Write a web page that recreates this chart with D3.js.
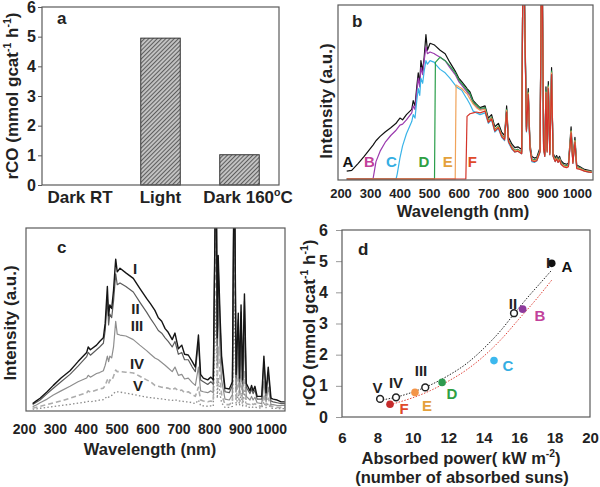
<!DOCTYPE html>
<html><head><meta charset="utf-8">
<script src="https://cdn.jsdelivr.net/npm/d3@7"></script>
<style>
body{margin:0;background:#fff;}
text{font-family:"Liberation Sans",Arial,sans-serif;font-weight:bold;fill:#222;}
</style></head><body>
<svg id="chart" width="600" height="487"></svg>
<script>
// ---------- panel a data ----------
const rateCategories = ["Dark RT", "Light", "Dark 160°C"];
const rateValues = [0, 4.95, 1.02];
const rateTicks = [0, 1, 2, 3, 4, 5, 6];

// ---------- panel b data (filtered spectra) ----------
const wlTicks = [200, 300, 400, 500, 600, 700, 800, 900, 1000];
const filterWl = [221,238,260,280,294,310,314,320,334,351,
370,388,392,401,410,423,441,446,452,458,
463,468,472,478,483,489,494,503,518,521,
537,554,570,588,591,600,610,624,628,638,
649,660,672,689,700,711,722,734,745,755,
762,768,780,790,800,813,818,824,829,835,
841,847,856,864,875,881,887,891,895,899,
903,908,914,919,926,931,936,941,946,955,
965,971,980,986,993,999,1010,1025,1040,1050];
const specA = [4.5,5,9,13,16,19.5,20.5,22,24.5,27,
29.5,32,33,35,34,37,40,45,42,53,
61,55,68,62,70,83,74,78,77,76.5,
74,72,67,62,61,58,56,53,52,50,
45,43,41,42,35,37,30,32,27,25,
42,24,20,18,18.5,17,150,87,30,52,
20,13,12,12.5,18,150,20,15,53,18,
56,16,64,15,12,13.5,11.5,13,10.5,9,
8.5,9,30,11,24,8,7,5.5,5,4.6];
const specB = [0,0,0,0,0,0,4,10,16,21,
25,28,29,31,31.5,34,38,42,40,50,
58,53,64,60,68,76,72,73,72,71.5,
70,68,64,60,59,56,54,51,50,48,
43.5,41.5,40,40.5,33.5,35,28.5,30,25.5,23.5,
39,22.5,18.5,16.5,17,15.5,150,83,28.5,49,
18.5,11.5,11,11.5,16.5,150,18.5,14,50,16.5,
53,15,61,14,11,12.5,10.5,12,9.5,8,
7.5,8,27,10,22,7,6.5,5,4.5,4.2];
const specC = [0,0,0,0,0,0,0,0,0,0,
0,0,3,12,19,26,33,37,35,45,
52,48,58,55,62,68,66,68,67,66,
63,61,58,54,53,52,51,47,46,43,
39,38,37,38,32,34,27,29,24,22,
38,21,17,15.5,16,14.5,150,82,27,48,
17,10,9.5,10.5,15.5,150,17,13,49,15.5,
52,14,60,13,10,11.5,9.5,11,8.5,7.5,
7,7.5,27,9,21,6.5,6,4.5,4,3.8];
const specD = [0,0,0,0,0,0,0,0,0,0,
0,0,0,0,0,0,0,0,0,0,
0,0,0,0,0,0,0,0,0,67,
70,68,65,61,60,57,55,52,51,49,
44,42.5,40.5,41,33.5,35.5,28.5,30.5,25.5,23.5,
40,22.5,18.5,16.5,17,15.5,150,84,28.5,50,
18.5,11.5,11,11.5,16.5,150,18.5,14,51,16.5,
54,15,62,14,11,12.5,10.5,12,9.5,8,
7.5,8,28,10,22.5,7,6.5,5,4.5,4.2];
const specE = [0,0,0,0,0,0,0,0,0,0,
0,0,0,0,0,0,0,0,0,0,
0,0,0,0,0,0,0,0,0,0,
0,0,0,0,54,53,52,49.5,49,46,
43,41,39.5,40,33,35,28,30,25,23,
39.5,22,18,16,16.5,15,150,83,28,49.5,
18,11,10.5,11,16,150,18,13.5,50,16,
53,14.5,61,13.5,10.5,12,10,11.5,9,7.5,
7,7.5,27.5,9.5,22,6.5,6,4.8,4.3,4];
const specF = [0,0,0,0,0,0,0,0,0,0,
0,0,0,0,0,0,0,0,0,0,
0,0,0,0,0,0,0,0,0,0,
0,0,0,0,0,0,0,0,36,37.5,
38,38.5,38,39,32.5,34.5,27.5,29.5,24.5,22.5,
38.5,21.5,17.5,15.5,16,14.5,150,82,27.5,48.5,
17.5,10.5,10,10.5,15.5,150,17.5,13,49.5,15.5,
52,14,60,13,10,11.5,9.5,11,8.5,7,
6.5,7,26.5,9,21,6,5.5,4.5,4,3.8];
const filterNames = ["A", "B", "C", "D", "E", "F"];

// ---------- panel c data (concentration series) ----------
const concWl = [228,240,252,275,295,320,349,375,403,408,
415,435,445,457,463,470,474,478,484,490,
497,502,511,530,554,575,597,610,624,635,
646,657,667,680,689,700,711,720,732,745,
755,765,772,781,795,805,813,822,826,829,
835,840,851,865,875,881,887,894,898,903,
908,914,920,932,937,942,948,955,970,977,
984,991,1000,1007,1020,1033,1045];
const intI = [4,5.5,7,10.5,14,18,22,27,32,35,
33.5,36,38,40,48,68,52,58,56,66,
83,76,78,75.5,72.5,67,61.5,58.5,55,51,
49,45,43,39,42.6,34,36,31,30.6,27,
24,41.5,20,18,17,18.5,17,150,40,85,
52,30,12.5,12,16,150,20,53.5,18,58,
17,64,15,11,14,11,13.5,8,8,30,
10,24,7,6.5,6,5,5];
const intII = [3.5,4.8,6,9.5,12.4,16,20,24.5,29.7,32,
30.5,33.5,35,37,44,62,47,53,51,60,
75,69,70,68,65,59.5,54,50.5,47,44,
42.5,40,38,35,38,31,32,28,28,24,
21.5,38,17,16,14.5,16,14.5,150,36,80,
48,27,10.5,10,14,150,18,50,16,54,
15,60,13,9.5,12,9.5,11.5,6.5,6.5,27,
8.5,21,5.5,5,4.5,4,4];
const intIII = [2.4,3.3,4.5,6.5,8.7,11,13.5,16,18,19.5,
18.5,20.5,21,22,25,30,27,30,29,35,
49,42,41.5,41,39,36,33,31,29,28,
26.5,25,23.5,21.5,24,19.5,20,17.5,18,15.5,
14,24,11,10.5,10,11,10,150,25,60,
32,17,6.5,6,9,150,11,32,10,36,
9.5,40,8,6,8,6,7.5,4.5,4,16,
5,13,3.5,3.5,3,3,3];
const intIV = [1.5,2,2.6,3.5,4.4,5.5,7,8.5,10,11,
10.3,11.5,12,12.5,14,17,15,17,16.5,19,
22.4,21.5,21.5,21.2,20.8,19,17,16,14,13.5,
13,12.7,12.5,11.5,12.5,11,11.5,10,10.5,9,
8,13,6,5.5,5,5.5,5,110,14,35,
18,9,3.5,3.5,5,110,6,18,5.5,20,
5,22,4,3.5,4.5,3.5,4,3,2.5,9,
3,7,2.5,2.5,2,2,2];
const intV = [1,1.2,1.5,2,2.4,3,3.6,4.3,5,5.3,
5.1,5.6,6,6.2,7,8,7.5,8.3,8.5,9.5,
10.5,10.5,10.3,9.8,9,8.3,7.6,7.3,7,6.8,
6.6,6.3,6.1,5.8,6.2,5.4,5.6,5,5,4.5,
4,6,3,2.8,2.6,2.8,2.6,60,7,18,
9,4.5,2,2,2.5,60,3,9,3,10,
2.8,11,2.4,2,2.4,2,2.2,1.8,1.6,5,
1.8,4,1.5,1.5,1.4,1.3,1.3];
const concNames = ["I", "II", "III", "IV", "V"];

// ---------- panel d data ----------
const powerTicks = [6, 8, 10, 12, 14, 16, 18, 20];
const romanNames = ["V", "IV", "III", "II"];
const romanPower = [8.15, 9.05, 10.7, 15.71];
const romanRate = [0.58, 0.63, 0.95, 3.33];
const filterPower = [17.84, 16.2, 14.58, 11.65, 10.12, 8.71];
const filterRate = [4.93, 3.46, 1.81, 1.11, 0.79, 0.41];
const fitBlackPower = [8.3, 9, 10, 11, 12, 13, 14, 15, 15.7, 16.5, 17.2, 17.85];
const fitBlackRate = [0.55, 0.63, 0.8, 1.03, 1.33, 1.7, 2.2, 2.8, 3.3, 3.85, 4.3, 4.72];
const fitRedPower = [8.71, 9, 10, 11, 12, 13, 14, 15, 16, 17, 17.85];
const fitRedRate = [0.39, 0.44, 0.62, 0.85, 1.15, 1.5, 1.95, 2.5, 3.15, 3.8, 4.4];

// ---------- helpers ----------
const svg = d3.select("#chart");
const defs = svg.append("defs");
const FRAME = "#5a5a5a";

function rich(sel, x, y, parts, o) {
  const t = sel.append("text").attr("x", x).attr("y", y)
    .attr("font-size", o.size).attr("text-anchor", o.anchor || "middle");
  if (o.rotate) t.attr("transform", `rotate(${o.rotate},${x},${y})`);
  if (o.fill) t.style("fill", o.fill);
  let shifted = 0;
  parts.forEach(p => {
    const sup = Array.isArray(p);
    const ts = t.append("tspan").text(sup ? p[0] : p);
    const target = sup ? -o.size * 0.4 : 0;
    ts.attr("dy", target - shifted);
    shifted = target;
    if (sup) ts.attr("font-size", o.size * 0.62);
  });
  return t;
}
function frame(x0, y0, x1, y1) {
  svg.append("rect").attr("x", x0).attr("y", y0).attr("width", x1 - x0).attr("height", y1 - y0)
    .attr("fill", "none").attr("stroke", FRAME).attr("stroke-width", 1.2);
}
function clip(id, x0, y0, x1, y1) {
  defs.append("clipPath").attr("id", id).append("rect")
    .attr("x", x0).attr("y", y0).attr("width", x1 - x0).attr("height", y1 - y0);
}
const rateTitle = ["rCO (mmol gcat", ["-1"], " h", ["-1"], ")"];
const intFmt = d3.format("d");

// ================= panel a =================
const pat = defs.append("pattern").attr("id", "hatch").attr("patternUnits", "userSpaceOnUse")
  .attr("width", 3).attr("height", 3).attr("patternTransform", "rotate(45)");
pat.append("rect").attr("width", 3).attr("height", 3).attr("fill", "#c4c4c4");
pat.append("line").attr("x1", 0.5).attr("y1", 0).attr("x2", 0.5).attr("y2", 3)
  .attr("stroke", "#5e5e5e").attr("stroke-width", 1.1);

const aX = d3.scaleBand().domain(rateCategories).range([42, 279]).paddingInner(0.5).paddingOuter(0.25);
const aY = d3.scaleLinear().domain([0, 6]).range([185, 7]);
svg.append("g").selectAll("rect.bar").data(rateCategories.filter((c, i) => rateValues[i] > 0)).join("rect")
  .attr("class", "bar")
  .attr("x", c => aX(c)).attr("width", aX.bandwidth())
  .attr("y", c => aY(rateValues[rateCategories.indexOf(c)]))
  .attr("height", c => aY(0) - aY(rateValues[rateCategories.indexOf(c)]))
  .attr("fill", "url(#hatch)").attr("stroke", "#333").attr("stroke-width", 1);
const axA = svg.append("g").attr("transform", "translate(42,0)")
  .call(d3.axisLeft(aY).tickValues(rateTicks).tickSize(4).tickPadding(2).tickFormat(intFmt));
axA.select(".domain").remove();
axA.selectAll("line").attr("stroke", FRAME);
axA.selectAll("text").attr("font-size", 16).style("fill", "#222");
frame(42, 7, 279, 185);
rich(svg, 80, 203, ["Dark RT"], {size: 17});
rich(svg, aX("Light") + aX.bandwidth() / 2, 203, ["Light"], {size: 17});
rich(svg, 248, 203, ["Dark 160", ["o"], "C"], {size: 17});
rich(svg, 18, 96, rateTitle, {size: 17, rotate: -90});
svg.append("text").attr("x", 57).attr("y", 24).attr("font-size", 17).text("a");

// ================= panel b =================
const bX = d3.scaleLinear().domain([200, 1000]).range([340.5, 577]);
const bY = d3.scaleLinear().domain([0, 100]).range([179, 5]);
clip("clipB", 338, 5, 593, 180);
const specs = [specA, specB, specC, specD, specE, specF];
const specColors = ["#111111", "#9b3aae", "#3ab4e8", "#2a9e4a", "#f0a35a", "#d3342a"];
const labelColors = ["#111111", "#c2419b", "#35aee3", "#2fa043", "#e4a13c", "#e04a2a"];
const lineB = d3.line().x((d, i) => bX(filterWl[i])).y(d => bY(d));
const gB = svg.append("g").attr("clip-path", "url(#clipB)");
specs.forEach((s, k) => {
  gB.append("path").attr("d", lineB(s)).attr("fill", "none")
    .attr("stroke", specColors[k]).attr("stroke-width", 1.2).attr("stroke-linejoin", "round");
});
const filterLabelWl = [225, 298, 372, 482, 563, 646];
filterNames.forEach((n, k) => {
  svg.append("text").attr("x", bX(filterLabelWl[k])).attr("y", 167).attr("text-anchor", "middle")
    .attr("font-size", 15).style("fill", labelColors[k]).text(n);
});
const axB = svg.append("g").attr("transform", "translate(0,180)")
  .call(d3.axisBottom(bX).tickValues(wlTicks).tickSize(0).tickPadding(9).tickFormat(intFmt));
axB.select(".domain").remove();
axB.selectAll("text").attr("font-size", 13).style("fill", "#222");
frame(338, 5, 593, 180);
rich(svg, 463, 217, ["Wavelength (nm)"], {size: 16.5});
rich(svg, 332, 101, ["Intensity (a.u.)"], {size: 17, rotate: -90});
svg.append("text").attr("x", 352).attr("y", 27).attr("font-size", 17).text("b");

// ================= panel c =================
const cX = d3.scaleLinear().domain([200, 1000]).range([24, 271]);
const cY = d3.scaleLinear().domain([0, 100]).range([411, 228]);
clip("clipC", 26, 228, 285, 411);
const lineC = d3.line().x((d, i) => cX(concWl[i])).y(d => cY(d));
const gC = svg.append("g").attr("clip-path", "url(#clipC)");
const concSeries = [intV, intIV, intIII, intII, intI];
const concStyles = [
  {c: "#8c8c8c", w: 1.3, dash: "1.5,2.2"},
  {c: "#acacac", w: 1.6, dash: "5,3"},
  {c: "#8e8e8e", w: 1.2, dash: null},
  {c: "#5c5c5c", w: 1.2, dash: null},
  {c: "#151515", w: 1.4, dash: null}
];
concSeries.forEach((s, k) => {
  const p = gC.append("path").attr("d", lineC(s)).attr("fill", "none")
    .attr("stroke", concStyles[k].c).attr("stroke-width", concStyles[k].w).attr("stroke-linejoin", "round");
  if (concStyles[k].dash) p.attr("stroke-dasharray", concStyles[k].dash);
});
const concLabelPos = [[135, 269], [135.5, 309], [137, 326], [137, 364], [138, 386]];
concNames.forEach((n, k) => {
  svg.append("text").attr("x", concLabelPos[k][0]).attr("y", concLabelPos[k][1] + 5)
    .attr("text-anchor", "middle").attr("font-size", 15).text(n);
});
const axC = svg.append("g").attr("transform", "translate(0,411)")
  .call(d3.axisBottom(cX).tickValues(wlTicks).tickSize(0).tickPadding(13).tickFormat(intFmt));
axC.select(".domain").remove();
axC.selectAll("text").attr("font-size", 14).style("fill", "#222");
frame(26, 228, 285, 411);
rich(svg, 150, 455, ["Wavelength (nm)"], {size: 16.5});
rich(svg, 16, 323, ["Intensity (a.u.)"], {size: 17, rotate: -90});
svg.append("text").attr("x", 57).attr("y", 253).attr("font-size", 17).text("c");

// ================= panel d =================
const dX = d3.scaleLinear().domain([6, 20]).range([342, 590]);
const dY = d3.scaleLinear().domain([0, 6]).range([417, 230]);
const fitLine = (xs) => d3.line().curve(d3.curveMonotoneX).x((d, i) => dX(xs[i])).y(d => dY(d));
svg.append("path").attr("d", fitLine(fitRedPower)(fitRedRate)).attr("fill", "none")
  .attr("stroke", "#e0443a").attr("stroke-width", 1).attr("stroke-dasharray", "1.5,1.5");
svg.append("path").attr("d", fitLine(fitBlackPower)(fitBlackRate)).attr("fill", "none")
  .attr("stroke", "#222").attr("stroke-width", 1).attr("stroke-dasharray", "1.5,1.5");
const dotColors = ["#111111", "#8e3a9c", "#3cb8ee", "#2f9a4e", "#f39448", "#c62b2b"];
romanNames.forEach((n, k) => {
  svg.append("circle").attr("cx", dX(romanPower[k])).attr("cy", dY(romanRate[k])).attr("r", 3.4)
    .attr("fill", "#fff").attr("stroke", "#222").attr("stroke-width", 1.5);
});
filterNames.forEach((n, k) => {
  svg.append("circle").attr("cx", dX(filterPower[k])).attr("cy", dY(filterRate[k])).attr("r", 3.8)
    .attr("fill", dotColors[k]);
});
const dRomanLabelPos = [[377.5, 387.5], [396, 382], [421, 370], [513, 303]];
romanNames.forEach((n, k) => {
  svg.append("text").attr("x", dRomanLabelPos[k][0]).attr("y", dRomanLabelPos[k][1] + 5.5)
    .attr("text-anchor", "middle").attr("font-size", 15).text(n);
});
svg.append("text").attr("x", 548).attr("y", 268).attr("text-anchor", "middle").attr("font-size", 15).text("I");
const dFilterLabelPos = [[567, 266], [540, 315], [508, 365], [452, 393], [427, 405], [404, 408]];
filterNames.forEach((n, k) => {
  svg.append("text").attr("x", dFilterLabelPos[k][0]).attr("y", dFilterLabelPos[k][1] + 5.5)
    .attr("text-anchor", "middle").attr("font-size", 15).style("fill", labelColors[k]).text(n);
});
const axDy = svg.append("g").attr("transform", "translate(342,0)")
  .call(d3.axisLeft(dY).tickValues(rateTicks).tickSize(6).tickPadding(8).tickFormat(intFmt));
axDy.select(".domain").remove();
axDy.selectAll("line").attr("stroke", "#999");
axDy.selectAll("text").attr("font-size", 16).style("fill", "#222");
const axDx = svg.append("g").attr("transform", "translate(0,417)")
  .call(d3.axisBottom(dX).tickValues(powerTicks).tickSize(0).tickPadding(15).tickFormat(intFmt));
axDx.select(".domain").remove();
axDx.selectAll("text").attr("font-size", 15).style("fill", "#222");
frame(342, 230, 590, 417);
rich(svg, 461, 464, ["Absorbed power( kW m", ["-2"], ")"], {size: 16.5});
rich(svg, 462, 482.5, ["(number of absorbed suns)"], {size: 16.5});
rich(svg, 315, 323, rateTitle, {size: 17, rotate: -90});
svg.append("text").attr("x", 358).attr("y", 255).attr("font-size", 17).text("d");
</script>
</body></html>
